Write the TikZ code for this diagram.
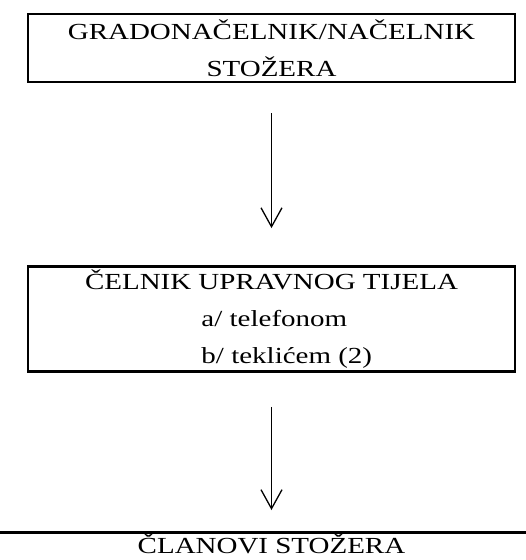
\documentclass[tikz,border=0pt]{standalone}
\usepackage{fontspec}
\setmainfont[FakeStretch=1.26]{Liberation Serif}
\usetikzlibrary{arrows.meta}
\newcommand{\nacin}[1]{\hspace*{31pt}\makebox[171pt][l]{#1}}
\begin{document}
\begin{tikzpicture}[x=1pt, y=-1pt,
	box/.style={draw, line width=2.5pt, align=center, font=\fontsize{23}{37}\selectfont},
	flow/.style={line width=1.3pt, -{Straight Barb[length=19pt, width=21pt, line width=1.3pt]}}]
	\useasboundingbox (0, 0) rectangle (526, 560);
	\clip (0, 0) rectangle (526, 560);
	\node[box, minimum width=487pt, minimum height=68pt] (nacelnik) at (271.5, 48) {GRADONAČELNIK/NAČELNIK\\STOŽERA};
	\node[box, minimum width=487pt, minimum height=104pt] (celnik) at (271.5, 319) {ČELNIK UPRAVNOG TIJELA\\\nacin{a/ telefonom}\\\nacin{b/ teklićem (2)}};
	\node[box, minimum width=560pt, anchor=north, inner ysep=1pt, text depth=12pt] (clanovi) at (271.5, 531) {ČLANOVI STOŽERA};
	\draw[flow, shorten <=30pt, shorten >=37pt] (nacelnik.south) -- (celnik.north);
	\draw[flow, shorten <=34pt, shorten >=21pt] (celnik.south) -- (clanovi.north);
\end{tikzpicture}
\end{document}
